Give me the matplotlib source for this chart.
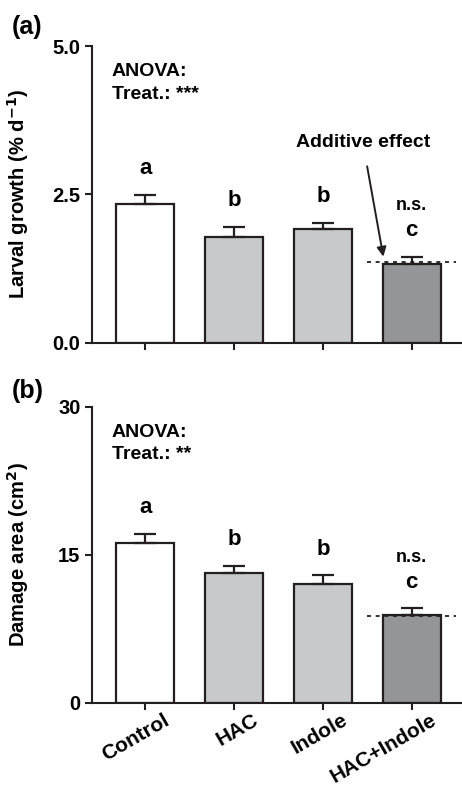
import matplotlib
matplotlib.use("Agg")
import matplotlib.pyplot as plt
from matplotlib.transforms import ScaledTranslation

plt.rcParams['font.family'] = ['Liberation Sans', 'DejaVu Sans']
plt.rcParams['font.weight'] = 'bold'
plt.rcParams['mathtext.default'] = 'bf'

categories = ["Control", "HAC", "Indole", "HAC+Indole"]
growth_mean = [2.34, 1.78, 1.91, 1.33]
growth_err = [0.15, 0.17, 0.11, 0.12]
growth_letters = ["a", "b", "b", "c"]
growth_additive = 1.36
damage_mean = [16.2, 13.1, 12.0, 8.9]
damage_err = [0.9, 0.8, 0.9, 0.65]
damage_letters = ["a", "b", "b", "c"]
damage_additive = 8.8
bar_colors = ["#ffffff", "#c8c9cb", "#c8c9cb", "#939598"]

fig = plt.figure(figsize=(4.62, 7.88), dpi=100)
ax_a = fig.add_axes([0.1985, 0.5651, 0.8015, 0.3765])
ax_b = fig.add_axes([0.1985, 0.1082, 0.8015, 0.3757])

x = list(range(len(categories)))


def draw(ax, means, errs, letters, additive, ymax, yticks, yticklabels, ylabel, stars):
    ax.bar(x, means, width=0.65, color=bar_colors, edgecolor="#231f20", linewidth=1.6, zorder=2)
    ax.errorbar(x, means, yerr=[[0] * len(errs), errs], fmt="none", ecolor="#231f20",
                elinewidth=1.6, capsize=8, capthick=1.6, zorder=3)
    ax.plot([2.5, 3.5], [additive, additive], color="#231f20", linestyle=(0, (2.2, 2.6)),
            linewidth=1.3, zorder=4)
    ax.set_xlim(-0.604, 3.566)
    ax.set_ylim(0, ymax)
    ax.set_yticks(yticks)
    ax.set_yticklabels(yticklabels, fontsize=14.5, fontweight='bold')
    ax.set_xticks(x)
    ax.spines['top'].set_visible(False)
    ax.spines['right'].set_visible(False)
    for s in ('left', 'bottom'):
        ax.spines[s].set_linewidth(1.5)
        ax.spines[s].set_color("#231f20")
    ax.tick_params(axis='both', direction='out', length=5, width=1.5, color="#231f20", pad=3)
    ax.set_ylabel(ylabel, fontsize=14.5, fontweight='bold')
    for xi, m, e, l in zip(x, means, errs, letters):
        ax.annotate(l, (xi, m + e), xytext=(0, 19), textcoords='offset points',
                    ha='center', va='center', fontsize=16, fontweight='bold')
    ax.annotate("n.s.", (x[-1], means[-1] + errs[-1]), xytext=(0, 37), textcoords='offset points',
                ha='center', va='center', fontsize=13, fontweight='bold')
    ax.text(0.054, 0.913, "ANOVA:", transform=ax.transAxes, ha='left', va='center',
            fontsize=14, fontweight='bold')
    ax.text(0.054, 0.837, "Treat.: " + stars, transform=ax.transAxes, ha='left', va='center',
            fontsize=14, fontweight='bold')


draw(ax_a, growth_mean, growth_err, growth_letters, growth_additive, 5.0,
     [0, 2.5, 5.0], ["0.0", "2.5", "5.0"], "Larval growth (% d$^{-1}$)", "***")
draw(ax_b, damage_mean, damage_err, damage_letters, damage_additive, 30,
     [0, 15, 30], ["0", "15", "30"], "Damage area (cm$^{2}$)", "**")

ax_a.set_xticklabels([])
ax_b.set_xticklabels(categories, rotation=30, ha='right', va='center', rotation_mode='anchor',
                     fontsize=15, fontweight='bold')
offset = ScaledTranslation(23 / 100, -5 / 100, fig.dpi_scale_trans)
for lab in ax_b.get_xticklabels():
    lab.set_transform(lab.get_transform() + offset)

ax_a.annotate("Additive effect", xy=(2.68, 1.45), xytext=(2.45, 3.37), ha='center', va='center',
              fontsize=14, fontweight='bold',
              arrowprops=dict(arrowstyle='-|>', color="#231f20", lw=1.4, mutation_scale=14,
                              shrinkA=9, shrinkB=0))

ax_a.yaxis.set_label_coords(-0.165, 0.5)
ax_b.yaxis.set_label_coords(-0.165, 0.5)

fig.text(0.025, 1 - 27 / 788, "(a)", ha='left', va='center', fontsize=18, fontweight='bold')
fig.text(0.025, 1 - 391 / 788, "(b)", ha='left', va='center', fontsize=18, fontweight='bold')

fig.savefig("out.png", dpi=100, facecolor='white')
